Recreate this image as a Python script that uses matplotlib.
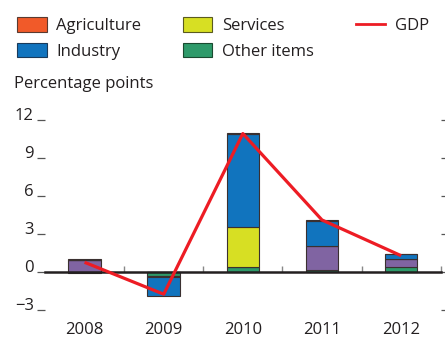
import numpy as np
import matplotlib
matplotlib.use('Agg')
import matplotlib.pyplot as plt
from matplotlib.patches import Patch
from matplotlib.lines import Line2D

plt.rcParams['font.family'] = ['Open Sans', 'DejaVu Sans']

years = ['2008', '2009', '2010', '2011', '2012']
# contributions, percentage points
agriculture = [0.05, 0.0, 0.1, 0.05, 0.0]
industry = [0.0, -1.45, 7.35, 2.0, 0.38]
services = [0.0, 0.0, 3.1, 0.0, 0.0]
other_items = [-0.13, -0.32, 0.39, 0.1, 0.39]
unlabelled = [0.92, -0.12, 0.0, 1.93, 0.59]
gdp = [0.74, -1.78, 10.9, 4.08, 1.26]

col_agri = '#f15a29'
col_ind = '#1174be'
col_serv = '#d7df23'
col_other = '#2e9a6a'
col_purple = '#8064a2'
col_gdp = '#ed1c24'
ink = '#231f20'
fs = 12

fig = plt.figure(figsize=(4.45, 3.37), dpi=100)
ax = fig.add_axes([45/445, 1-316/337, (440.7-45)/445, (316-113.3)/337])

x = np.arange(len(years))
w = 0.41
pos_base = np.zeros(len(years))
neg_base = np.zeros(len(years))
# stacking order from zero outward
for vals, c in [(other_items, col_other), (unlabelled, col_purple), (services, col_serv),
                (industry, col_ind), (agriculture, col_agri)]:
    v = np.array(vals, dtype=float)
    base = np.where(v >= 0, pos_base, neg_base)
    ax.bar(x, v, w, bottom=base, color=c, edgecolor='#3a3030', linewidth=0.8, zorder=2)
    pos_base = pos_base + np.where(v >= 0, v, 0)
    neg_base = neg_base + np.where(v < 0, v, 0)

ax.plot(x, gdp, color=col_gdp, lw=2.3, zorder=4, solid_capstyle='butt')

ax.set_xlim(-0.5, len(years)-0.5)
ax.set_ylim(-3.5, 12.5)
ax.set_yticks([-3, 0, 3, 6, 9, 12])
ax.set_yticklabels(['\u22123', '0', '3', '6', '9', '12'])
ax.tick_params(axis='y', which='major', left=True, right=True, length=6, width=0.9,
               color='#555555', labelsize=fs, labelcolor=ink, pad=2)
for t in ax.yaxis.get_major_ticks():
    t.label1.set_va('baseline')
    t.tick2line.set_markersize(3)

ax.set_xticks(x)
ax.set_xticklabels(years)
ax.set_xticks(np.arange(len(years)) + 0.5, minor=True)
ax.tick_params(axis='x', which='major', bottom=True, top=False, length=0,
               labelsize=fs, labelcolor=ink, pad=4)
ax.tick_params(axis='x', which='minor', bottom=False, top=True, direction='out',
               length=4, width=1, color='#888888')

for s in ['left', 'right', 'bottom']:
    ax.spines[s].set_visible(False)
ax.spines['top'].set_position(('data', 0))
ax.spines['top'].set_linewidth(1.8)
ax.spines['top'].set_color(ink)
ax.spines['top'].set_zorder(3)

handles = [Patch(facecolor=col_agri, edgecolor='#5a3a30', lw=0.8, label='Agriculture'),
           Patch(facecolor=col_ind, edgecolor='#1a3a5a', lw=0.8, label='Industry'),
           Patch(facecolor=col_serv, edgecolor='#5a5a20', lw=0.8, label='Services'),
           Patch(facecolor=col_other, edgecolor='#1a4a30', lw=0.8, label='Other items'),
           Line2D([], [], color=col_gdp, lw=2, label='GDP')]
fig.legend(handles=handles, ncol=3, loc='upper left', bbox_to_anchor=(4/445, 1-4/337),
           frameon=False, fontsize=fs, handlelength=1.75, handleheight=0.95,
           handletextpad=0.6, columnspacing=2.5, labelspacing=0.5, borderpad=0.3,
           labelcolor=ink)

fig.text(14/445, 1-84/337, 'Percentage points', fontsize=fs, color=ink, va='center', ha='left')

fig.savefig('out.png', dpi=100)
